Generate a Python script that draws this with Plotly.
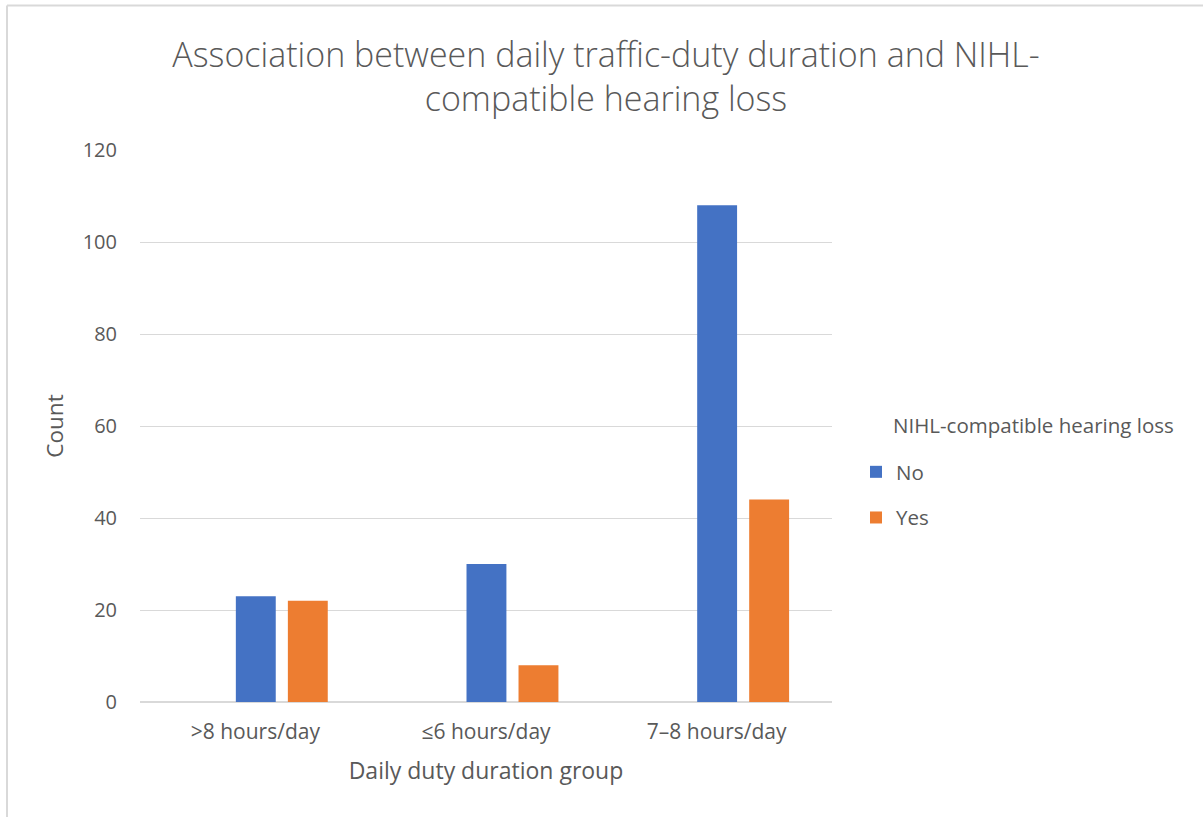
import plotly.graph_objects as go

categories = [">8 hours/day", "≤6 hours/day", "7–8 hours/day"]
no_values = [23, 30, 108]
yes_values = [22, 8, 44]
series_names = ["No", "Yes"]
y_ticks = [0, 20, 40, 60, 80, 100, 120]

W, H = 1203, 817
L, R, T, B = 140, W - 832, 150, H - 702
pw, ph = W - L - R, H - T - B

def px_x(p):
    return (p - L) / pw

def px_y(p):
    return (H - B - p) / ph

TICK = "#595959"
GRID = "#d9d9d9"
FONT_TXT = "Open Sans, Noto Sans, sans-serif"

fig = go.Figure()
fig.add_trace(go.Bar(
    x=categories, y=no_values, name=series_names[0],
    marker=dict(color="#4472C4", line=dict(width=0)),
    width=0.173, offset=-0.0845, legendgroup="a",
))
fig.add_trace(go.Bar(
    x=categories, y=yes_values, name=series_names[1],
    marker=dict(color="#ED7D31", line=dict(width=0)),
    width=0.173, offset=0.141, legendgroup="b",
))

fig.update_layout(
    width=W, height=H,
    margin=dict(l=L, r=R, t=T, b=B, autoexpand=False),
    paper_bgcolor="white", plot_bgcolor="white",
    barmode="overlay",
    title=dict(
        text="Association between daily traffic-duty duration and NIHL-<br>compatible hearing loss",
        x=606 / W, xanchor="center", y=1 - 67 / H, yanchor="middle",
        font=dict(family=FONT_TXT, size=34, color=TICK, weight=300),
    ),
    showlegend=True,
    legend=dict(
        x=px_x(856), y=px_y(452), xanchor="left", yanchor="top",
        font=dict(family=FONT_TXT, size=20.5, color=TICK),
        tracegroupgap=16, itemwidth=30, bgcolor="rgba(0,0,0,0)",
        traceorder="grouped",
    ),
    xaxis=dict(
        showgrid=False, showline=False, zeroline=False,
        tickfont=dict(family=FONT_TXT, size=21, color=TICK),
        ticklabelstandoff=15,
        title=dict(text="Daily duty duration group", standoff=18,
                   font=dict(family=FONT_TXT, size=23, color=TICK)),
    ),
    yaxis=dict(
        range=[0, 120], tickvals=y_ticks,
        showgrid=True, gridcolor=GRID, gridwidth=1,
        zeroline=True, zerolinecolor=GRID, zerolinewidth=2,
        showline=False,
        tickfont=dict(family=FONT_TXT, size=20, color=TICK),
        ticklabelstandoff=22,
        title=dict(text="Count", standoff=12,
                   font=dict(family=FONT_TXT, size=22.5, color=TICK)),
    ),
    annotations=[dict(
        text="NIHL-compatible hearing loss", xref="paper", yref="paper",
        x=px_x(891), y=px_y(425), xanchor="left", yanchor="middle",
        showarrow=False, font=dict(family=FONT_TXT, size=20.5, color=TICK),
    )],
    shapes=[
        dict(type="line", xref="paper", yref="paper",
             x0=px_x(7), x1=px_x(1210), y0=px_y(5.5), y1=px_y(5.5),
             line=dict(color=GRID, width=2)),
        dict(type="line", xref="paper", yref="paper",
             x0=px_x(7), x1=px_x(7), y0=px_y(5.5), y1=px_y(830),
             line=dict(color=GRID, width=2)),
    ],
)

fig.write_html("out.html", config={"displayModeBar": False},
               post_script="document.body.style.margin='0';")
